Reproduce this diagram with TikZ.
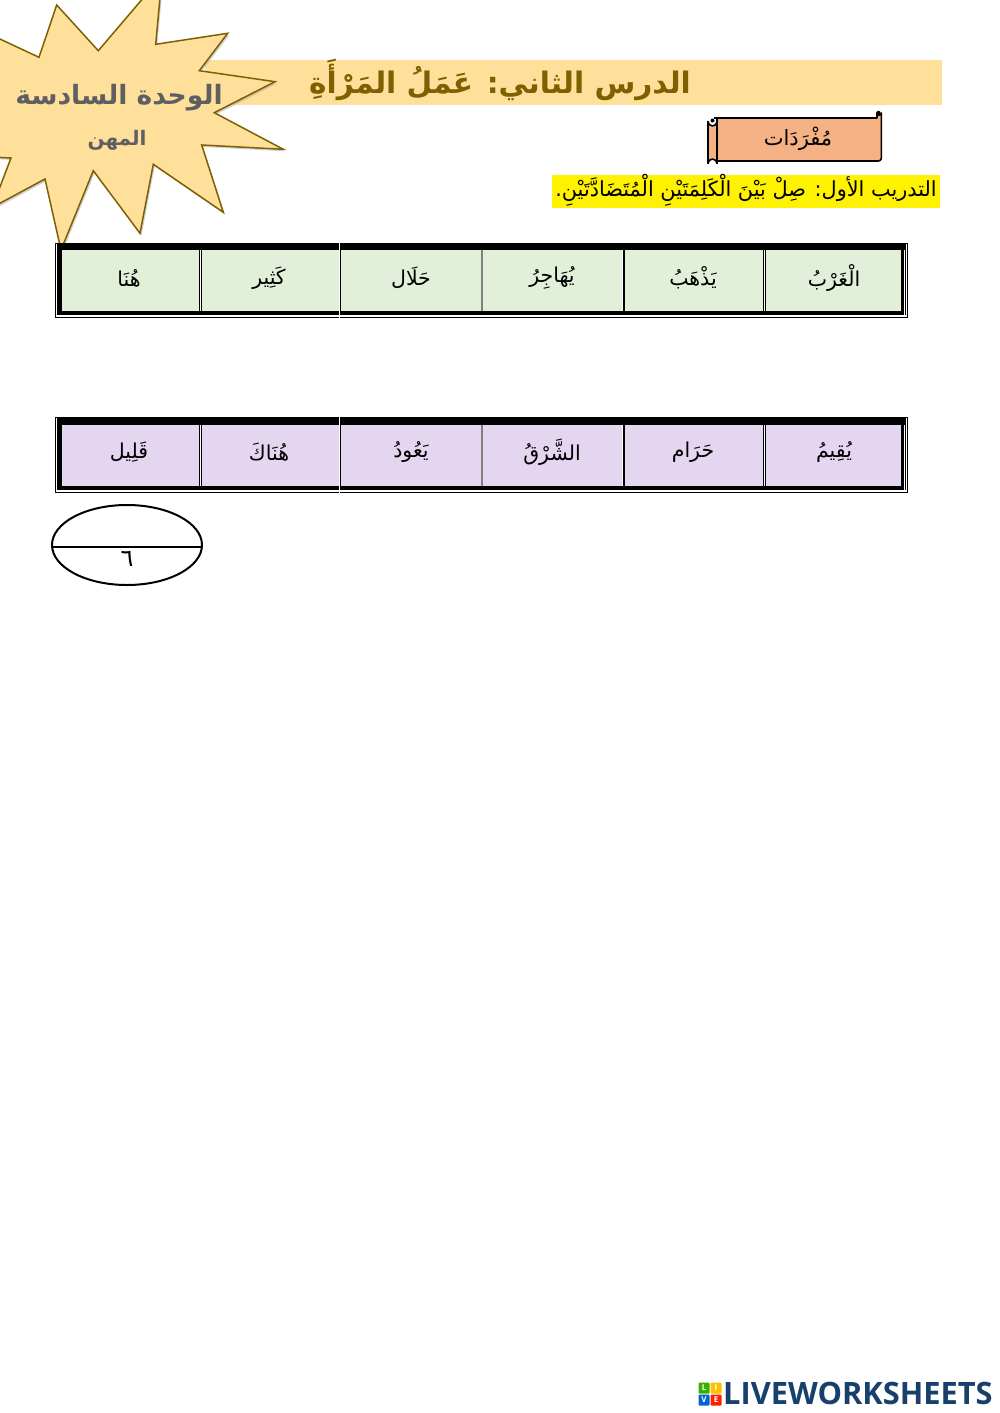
\documentclass[tikz,border=0pt]{standalone}
\usepackage{fontspec}
\usetikzlibrary{shapes.geometric}
\TeXXeTstate=1
\newfontfamily\arabicfont[Script=Arabic]{DejaVu Sans}
\newfontfamily\logofont{Open Sans}
\definecolor{banner}{HTML}{FFE09B}
\definecolor{starline}{HTML}{7F6000}
\definecolor{titlecol}{HTML}{7F6000}
\definecolor{stargrey}{HTML}{5F5F63}
\definecolor{scrollfill}{HTML}{F4B183}
\definecolor{greencell}{HTML}{E2EFD9}
\definecolor{purplecell}{HTML}{E4D6F1}
\definecolor{logoblue}{HTML}{17406D}
\tikzset{
  cellword/.style={font=\arabicfont\fontsize{20.5}{24}\selectfont,text=black,inner sep=0pt,anchor=center},
  scrollline/.style={draw=black,line width=1.6pt,line join=round},
  tableouter/.style={draw=black,line width=1pt},
  logosq/.style={minimum size=11pt,inner sep=0pt,rounded corners=1pt,text=white,font=\logofont\bfseries\fontsize{8}{8}\selectfont},
}
\newcommand{\wordtable}[3]{%
  % #1 top, #2 bottom, #3 fill
  \fill[white] (55,#1) rectangle (908,#2);
  \draw[tableouter] (55.5,#1+0.5) rectangle (907.5,#2-0.5);
  \fill[black] (57,#1+1) rectangle (906,#2-2);
  \fill[#3] (62,#1+7.5) rectangle (198.5,#2-7);
  \fill[#3] (201.5,#1+7.5) rectangle (338.5,#2-7);
  \fill[#3] (341,#1+7.5) rectangle (480.5,#2-7);
  \fill[#3] (483,#1+7.5) rectangle (621.5,#2-7);
  \fill[#3] (624.5,#1+7.5) rectangle (763,#2-7);
  \fill[#3] (766,#1+7.5) rectangle (900.5,#2-7);
  \fill[white] (199.5,#1+7.5) rectangle (200.5,#2-7);
  \fill[white] (764,#1+7.5) rectangle (765,#2-7);
  \fill[white] (622.3,#1+7.5) rectangle (623.3,#2-7);
  \fill[gray] (481,#1+7.5) rectangle (482.8,#2-7);
  \fill[white] (339,#1) rectangle (340,#2);
  \fill[white] (57,#2-3) rectangle (906,#2-2);
  \fill[white] (903.5,#1+7.5) rectangle (904.3,#2-2);
}
\begin{document}
\begin{tikzpicture}[x=1pt,y=-1pt]
\useasboundingbox (0,0) rectangle (1000,1413);
\begin{scope}
\clip (0,0) rectangle (1000,1413);
% banner
\fill[banner] (205,60) rectangle (942,105);
% star shadow and star
\def\starpath{(98.3,50.7) -- (162,-24) -- (155.7,44.3) -- (227.7,33.3) -- (199.3,70.7) -- (275,81.7) -- (214.3,112.7) -- (283.3,149.3) -- (201.7,145) -- (223.3,212.3) -- (153.3,164.3) -- (140,233.3) -- (93.3,170.7) -- (61,250) -- (45,179) -- (-20,214) -- (-2,192) -- (11,158) -- (-30,156) -- (-30,25) -- (39,57.3) -- (56.7,5) -- cycle}
\fill[black!30,opacity=.6] [xshift=1.5pt,yshift=-2pt] \starpath;
\filldraw[fill=banner,draw=starline,line width=1.5pt,line join=miter] \starpath;
\end{scope}
\node[font=\arabicfont\bfseries\fontsize{29.6}{34}\selectfont,text=titlecol,inner sep=0pt] (title) at (500,80) {\beginR الدرس الثاني: عَمَلُ المَرْأَةِ\endR};
\node[font=\arabicfont\bfseries\fontsize{26.6}{30}\selectfont,text=stargrey,inner sep=0pt] (unit) at (119,98) {\beginR الوحدة السادسة\endR};
\node[font=\arabicfont\bfseries\fontsize{20}{24}\selectfont,text=stargrey,inner sep=0pt] (jobs) at (117,140) {\beginR المهن\endR};
% scroll
\filldraw[fill=scrollfill,scrollline] (714,118) -- (877,118) -- (877,113) arc[start angle=180,end angle=0,radius=2.2] -- (881.4,158) arc[start angle=0,end angle=90,radius=3] -- (717,161) -- (717,118);
\filldraw[fill=scrollfill,scrollline] (708,121.5) arc[start angle=180,end angle=0,radius=4.5] -- (717,163.5) arc[start angle=0,end angle=-180,radius=4.5] -- cycle;
\fill[black] (878.5,113) circle (2.2);
\fill[black] (712.5,120.5) circle (2);
\node[font=\arabicfont\fontsize{21}{26}\selectfont,text=black,inner sep=0pt] (vocab) at (798,139) {\beginR مُفْرَدَات\endR};
% exercise
\fill[yellow] (552,175) rectangle (940,208);
\node[font=\arabicfont\fontsize{20.8}{26}\selectfont,text=black,inner sep=0pt] (task) at (746,190) {\beginR التدريب الأول: صِلْ بَيْنَ الْكَلِمَتَيْنِ الْمُتَضَادَّتَيْنِ.\endR};
% tables
\wordtable{242.5}{318}{greencell}
\node[cellword] (g1) at (834,278) {\beginR الْغَرْبُ\endR};
\node[cellword] (g2) at (693,278) {\beginR يَذْهَبُ\endR};
\node[cellword] (g3) at (552,278) {\beginR يُهَاجِرُ\endR};
\node[cellword] (g4) at (411,278) {\beginR حَلَال\endR};
\node[cellword] (g5) at (269,278) {\beginR كَثِير\endR};
\node[cellword] (g6) at (129,278) {\beginR هُنَا\endR};
\wordtable{417}{492.5}{purplecell}
\node[cellword] (p1) at (834,452) {\beginR يُقِيمُ\endR};
\node[cellword] (p2) at (693,452) {\beginR حَرَام\endR};
\node[cellword] (p3) at (552,452) {\beginR الشَّرْقُ\endR};
\node[cellword] (p4) at (411,452) {\beginR يَعُودُ\endR};
\node[cellword] (p5) at (269,452) {\beginR هُنَاكَ\endR};
\node[cellword] (p6) at (129,452) {\beginR قَلِيل\endR};
% page ellipse
\node[draw=black,line width=2pt,ellipse,minimum width=150pt,minimum height=80pt,inner sep=0pt] (pagec) at (127,545) {};
\coordinate (pl) at (52,547);
\coordinate (pr) at (202,547);
\draw[black,line width=1.2pt] (pl) -- (pr);
\node[font=\arabicfont\fontsize{24}{26}\selectfont,text=black,inner sep=0pt] (pagenum) at (127,559) {٦};
% logo
\node[logosq,fill=green!55!black!70!lime] (ll) at (704,1388) {L};
\node[logosq,fill=orange!50!yellow] (li) at (716,1388) {I};
\node[logosq,fill=blue!50!cyan!80!black] (lv) at (704,1400) {V};
\node[logosq,fill=red!75!orange] (le) at (716,1400) {E};
\node[font=\logofont\bfseries\fontsize{30.8}{32}\selectfont,text=logoblue,anchor=west,inner sep=0pt] (logo) at (723,1393) {LIVEWORKSHEETS};
\end{tikzpicture}
\end{document}
